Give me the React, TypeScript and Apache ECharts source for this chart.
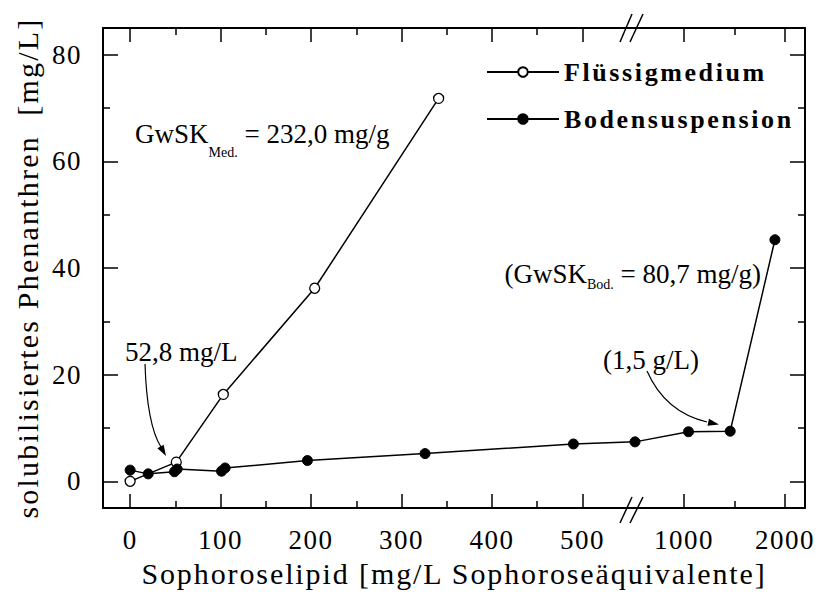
import React, { useEffect, useRef } from "react";
import * as echarts from "echarts";

const FONT = "'Liberation Serif', 'Times New Roman', Times, serif";

const seriesNames = ["Flüssigmedium", "Bodensuspension"];
const medX = [0, 51, 103, 204, 341];
const medY = [0, 3.6, 16.3, 36.2, 71.8];
const bodX = [0, 20, 49, 52, 101, 105, 196, 326, 490, 515, 1045, 1458, 1901];
const bodY = [2.1, 1.4, 1.8, 2.3, 1.9, 2.5, 3.9, 5.2, 7.0, 7.4, 9.3, 9.4, 45.3];
const xMajorTicks = [0, 100, 200, 300, 400, 500, 1000, 2000];
const xMinorTicks = [50, 150, 250, 350, 450, 1500];
const yMajorTicks = [0, 20, 40, 60, 80];
const yMinorTicks = [10, 30, 50, 70];
const xTitle = "Sophoroselipid [mg/L Sophoroseäquivalente]";
const yTitle = "solubilisiertes Phenanthren  [mg/L]";

// broken x axis: 0..500 linear, then 1000..2000 compressed
const BREAK_LOW = 500;
const BREAK_HIGH = 1000;
const BREAK_GAP = 112.2;
const HIGH_SCALE = 0.1116;
const toU = (x: number) =>
  x <= BREAK_LOW ? x : BREAK_LOW + BREAK_GAP + (x - BREAK_HIGH) * HIGH_SCALE;
const fromU = (u: number) =>
  u <= BREAK_LOW + 1 ? u : BREAK_HIGH + (u - BREAK_LOW - BREAK_GAP) / HIGH_SCALE;

function arrowHead(tipX: number, tipY: number, fromX: number, fromY: number, len = 11, half = 3.6) {
  const dx = tipX - fromX;
  const dy = tipY - fromY;
  const n = Math.sqrt(dx * dx + dy * dy);
  const ux = dx / n;
  const uy = dy / n;
  const bx = tipX - ux * len;
  const by = tipY - uy * len;
  return [
    [tipX, tipY],
    [bx - uy * half, by + ux * half],
    [bx + uy * half, by - ux * half],
  ];
}

export default function App() {
  const ref = useRef<HTMLDivElement>(null);
  useEffect(() => {
    if (!ref.current) return;
    const chart = echarts.init(ref.current, null, { renderer: "svg" });
    const black = "#000";
    const tickLabel = {
      fontFamily: FONT,
      fontSize: 27,
      color: black,
    };
    const xBase = (position: "bottom" | "top", major: boolean) => ({
      type: "value",
      position,
      min: -30,
      max: 746,
      splitLine: { show: false },
      axisLine: { show: major, onZero: false, lineStyle: { color: black, width: 2 } },
      axisTick: {
        show: true,
        inside: true,
        length: major ? 14 : 7,
        lineStyle: { color: black, width: 1.5 },
        customValues: (major ? xMajorTicks : xMinorTicks).map(toU),
      },
      axisLabel: { show: false },
    });
    const yBase = (position: "left" | "right", major: boolean) => ({
      type: "value",
      position,
      min: -5,
      max: 85,
      splitLine: { show: false },
      axisLine: { show: major, onZero: false, lineStyle: { color: black, width: 2 } },
      axisTick: {
        show: true,
        inside: true,
        length: major ? 15 : 7,
        lineStyle: { color: black, width: 1.5 },
        customValues: major ? yMajorTicks : yMinorTicks,
      },
      axisLabel: { show: false },
    });

    const xMain: any = xBase("bottom", true);
    xMain.axisLabel = {
      show: true,
      ...tickLabel,
      margin: 18,
      customValues: xMajorTicks.map(toU),
      formatter: (v: number) => String(Math.round(fromU(v))),
    };
    xMain.name = xTitle;
    xMain.nameLocation = "middle";
    xMain.nameGap = 50;
    xMain.nameTextStyle = { fontFamily: FONT, fontSize: 30, color: black };

    const yMain: any = yBase("left", true);
    yMain.axisLabel = {
      show: true,
      ...tickLabel,
      margin: 21,
      customValues: yMajorTicks,
    };
    yMain.name = yTitle;
    yMain.nameLocation = "middle";
    yMain.nameGap = 61;
    yMain.nameTextStyle = { fontFamily: FONT, fontSize: 30, color: black };

    const medData = medX.map((x, i) => [toU(x), medY[i]]);
    const bodData = bodX.map((x, i) => [toU(x), bodY[i]]);

    const a1 = { x1: 145, y1: 364, cpx1: 147, cpy1: 425, x2: 161, y2: 447 };
    const a2 = { x1: 647, y1: 371, cpx1: 665, cpy1: 412, x2: 707, y2: 422 };

    const option: any = {
      animation: false,
      backgroundColor: "#fff",
      grid: { left: 103, right: 12, top: 28, bottom: 83, containLabel: false },
      xAxis: [xMain, xBase("bottom", false), xBase("top", true), xBase("top", false)],
      yAxis: [yMain, yBase("left", false), yBase("right", true), yBase("right", false)],
      legend: {
        data: seriesNames,
        orient: "vertical",
        left: 486,
        top: 59,
        padding: 0,
        itemWidth: 72,
        itemHeight: 12,
        itemGap: 21,
        selectedMode: false,
        textStyle: { fontFamily: FONT, fontWeight: "bold", fontSize: 26, color: black },
      },
      series: [
        {
          name: seriesNames[0],
          type: "line",
          data: medData,
          symbol: "circle",
          symbolSize: 10,
          itemStyle: { color: "#fff", borderColor: black, borderWidth: 1.3 },
          lineStyle: { color: black, width: 1.5 },
          z: 2,
        },
        {
          name: seriesNames[1],
          type: "line",
          data: bodData,
          symbol: "circle",
          symbolSize: 10,
          itemStyle: { color: black, borderColor: black, borderWidth: 1 },
          lineStyle: { color: black, width: 1.5 },
          z: 3,
        },
      ],
      graphic: [
        {
          type: "text",
          x: 135,
          y: 134,
          style: {
            text: "{a|GwSK}{b|Med.}{a| = 232,0 mg/g}",
            textAlign: "left",
            textVerticalAlign: "middle",
            rich: {
              a: { fontFamily: FONT, fontSize: 27, fill: black, lineHeight: 50 },
              b: { fontFamily: FONT, fontSize: 14, fill: black, lineHeight: 14, verticalAlign: "bottom" },
            },
          },
        },
        {
          type: "text",
          x: 761,
          y: 274,
          style: {
            text: "{a|(GwSK}{b|Bod.}{a| = 80,7 mg/g)}",
            textAlign: "right",
            textVerticalAlign: "middle",
            rich: {
              a: { fontFamily: FONT, fontSize: 27, fill: black, lineHeight: 35 },
              b: { fontFamily: FONT, fontSize: 14, fill: black, lineHeight: 14, verticalAlign: "bottom" },
            },
          },
        },
        {
          type: "text",
          x: 125,
          y: 352,
          style: {
            text: "52,8 mg/L",
            font: `27px ${FONT}`,
            fill: black,
            textAlign: "left",
            textVerticalAlign: "middle",
          },
        },
        {
          type: "text",
          x: 603,
          y: 360,
          style: {
            text: "(1,5 g/L)",
            font: `27px ${FONT}`,
            fill: black,
            textAlign: "left",
            textVerticalAlign: "middle",
          },
        },
        {
          type: "bezierCurve",
          shape: a1,
          style: { stroke: black, lineWidth: 1.2, fill: null },
        },
        {
          type: "polygon",
          shape: { points: arrowHead(166, 456, a1.x2 - 2.5, a1.y2 - 4) },
          style: { fill: black },
        },
        {
          type: "bezierCurve",
          shape: a2,
          style: { stroke: black, lineWidth: 1.2, fill: null },
        },
        {
          type: "polygon",
          shape: { points: arrowHead(719, 424.5, a2.x2 - 4, a2.y2 - 1) },
          style: { fill: black },
        },
        // axis break marks
        { type: "line", shape: { x1: 620, y1: 42, x2: 632, y2: 14 }, style: { stroke: black, lineWidth: 1.5 } },
        { type: "line", shape: { x1: 630, y1: 42, x2: 643, y2: 14 }, style: { stroke: black, lineWidth: 1.5 } },
        { type: "line", shape: { x1: 620, y1: 523, x2: 632, y2: 497 }, style: { stroke: black, lineWidth: 1.5 } },
        { type: "line", shape: { x1: 630, y1: 523, x2: 643, y2: 497 }, style: { stroke: black, lineWidth: 1.5 } },
      ],
    };
    chart.setOption(option);

    const spacing: Record<string, number> = {
      [seriesNames[0]]: 2.6,
      [seriesNames[1]]: 2.6,
      [xTitle]: 1.9,
      [yTitle]: 2.2,
    };
    ref.current.querySelectorAll("text").forEach((t) => {
      const c = (t.textContent || "").trim();
      const s = spacing[c] ?? (/^\d+$/.test(c) ? 1.5 : 0);
      if (s) (t as SVGTextElement).style.letterSpacing = s + "px";
    });

    return () => chart.dispose();
  }, []);
  return (
    <div
      ref={ref}
      style={{ position: "absolute", left: 0, top: 0, width: 817, height: 593, background: "#fff" }}
    />
  );
}
